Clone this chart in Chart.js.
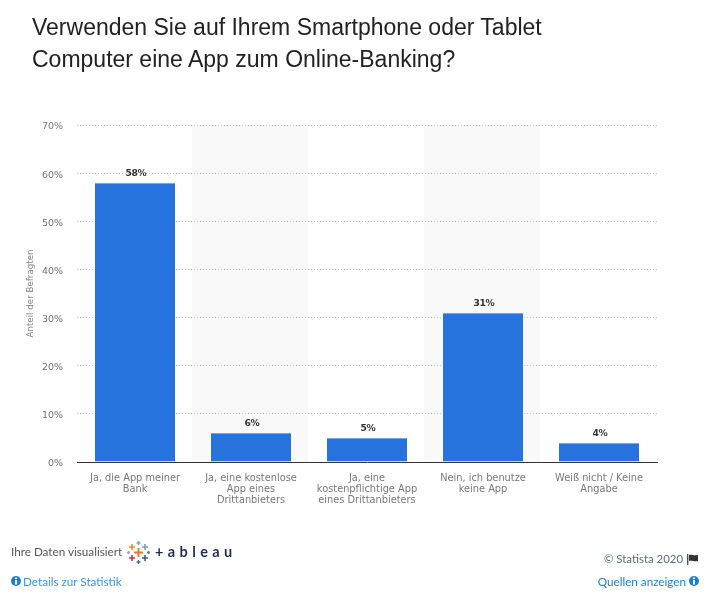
<!DOCTYPE html>
<html lang="de">
<head>
<meta charset="utf-8">
<script src="https://cdn.jsdelivr.net/npm/chart.js@4"></script>
<style>
html,body{margin:0;padding:0;background:#fff;width:716px;height:600px;overflow:hidden}
#wrap{position:relative;width:716px;height:600px}
canvas{position:absolute;left:0;top:0}
.t{position:absolute;white-space:nowrap}
#title{left:32px;top:11px;font:23px/32px "Liberation Sans",Arial,sans-serif;color:#222}
.f{font:11.7px/14px Lato,"Open Sans",sans-serif}
svg{position:absolute;display:block}
</style>
</head>
<body>
<div id="wrap">
<canvas id="c" width="716" height="600"></canvas>
<div class="t" id="title">Verwenden Sie auf Ihrem Smartphone oder Tablet<br>Computer eine App zum Online-Banking?</div>
<div class="t f" style="left:11px;top:544px;color:#555">Ihre Daten visualisiert</div>
<svg style="left:127px;top:541px" width="24" height="24" viewBox="0 0 24 24" stroke-width="1.6" fill="none">
<path d="M11.500 7v9M7 11.500h9" stroke="#e8762b" stroke-width="2"/>
<path d="M5 3v6M2 6h6" stroke="#f28e2b"/>
<path d="M18 3v6M15 6h6" stroke="#7b9fb5"/>
<path d="M5 14v6M2 17h6" stroke="#c8324b"/>
<path d="M18 14v6M15 17h6" stroke="#3f5f8a"/>
<path d="M11.500 0v4M9.500 2h4" stroke="#7fa6b8"/>
<path d="M11.500 19v4M9.500 21h4" stroke="#5b6f9a"/>
<path d="M1.500 10v3M0 11.500h3" stroke="#8fb0c2"/>
<path d="M21.500 10v3M20 11.500h3" stroke="#5f86a8"/>
</svg>
<div class="t" style="left:155px;top:543px;font:14.5px/18px Lato,sans-serif;font-weight:700;color:#1f2f55;letter-spacing:4.4px">+ableau</div>
<svg style="left:11px;top:576px" width="10" height="10" viewBox="0 0 10 10"><circle cx="5" cy="5" r="5" fill="#1c7fd6"/><rect x="4" y="1.500" width="2" height="1.600" fill="#fff"/><rect x="4" y="4" width="2" height="4.500" fill="#fff"/></svg>
<div class="t f" style="left:23px;top:574px;color:#3a96e6">Details zur Statistik</div>
<div class="t f" style="right:33px;top:552px;color:#5a6a80;font-size:11.4px">© Statista 2020</div>
<svg style="left:687px;top:554px" width="12" height="11" viewBox="0 0 12 11"><rect x="0" y="0" width="1.400" height="11" fill="#555"/><path d="M2 1c3-1 4 1 9 0v6c-4 1-6-1-9 0z" fill="#333"/></svg>
<div class="t f" style="right:30px;top:574px;color:#1c7fd6">Quellen anzeigen</div>
<svg style="left:689px;top:576px" width="10" height="10" viewBox="0 0 10 10"><circle cx="5" cy="5" r="5" fill="#1c7fd6"/><rect x="4" y="1.500" width="2" height="1.600" fill="#fff"/><rect x="4" y="4" width="2" height="4.500" fill="#fff"/></svg>
</div>
<script>
const categories = [
  ["Ja, die App meiner", "Bank"],
  ["Ja, eine kostenlose", "App eines", "Drittanbieters"],
  ["Ja, eine", "kostenpflichtige App", "eines Drittanbieters"],
  ["Nein, ich benutze", "keine App"],
  ["Weiß nicht / Keine", "Angabe"]
];
const shares = [58, 6, 5, 31, 4];
const yAxisTitle = "Anteil der Befragten";

const bands = {
  id: "bands",
  beforeDraw(chart) {
    const { ctx, chartArea: a, scales: { x } } = chart;
    const w = a.width / categories.length;
    ctx.save();
    ctx.fillStyle = "#f9f9f9";
    categories.forEach((_, i) => {
      if (i % 2 === 1) ctx.fillRect(x.getPixelForValue(i) - w / 2 - 1, a.top, w, a.bottom - a.top);
    });
    ctx.restore();
  }
};
const valueLabels = {
  id: "valueLabels",
  afterDatasetsDraw(chart) {
    const { ctx } = chart;
    ctx.save();
    ctx.font = 'bold 9.2px "DejaVu Sans"';
    ctx.letterSpacing = "-0.4px";
    ctx.fillStyle = "#333";
    ctx.textAlign = "center";
    ctx.textBaseline = "alphabetic";
    chart.getDatasetMeta(0).data.forEach((bar, i) => {
      ctx.fillText(shares[i] + "%", bar.x + 1, bar.y - 7);
    });
    ctx.restore();
  }
};
new Chart(document.getElementById("c"), {
  type: "bar",
  data: {
    labels: categories,
    datasets: [{
      data: shares, backgroundColor: "#2773dd", barPercentage: 0.69, categoryPercentage: 1,
      borderWidth: { top: 1, left: 0, right: 0, bottom: 0 }, borderColor: "#6fa3ea"
    }]
  },
  options: {
    responsive: false,
    animation: false,
    devicePixelRatio: 1,
    layout: { padding: { left: 0, right: 59, top: 125, bottom: 88 } },
    plugins: { legend: { display: false }, tooltip: { enabled: false } },
    scales: {
      x: {
        grid: { display: false, drawTicks: false },
        border: { display: true, color: "#333", width: 1 },
        ticks: { color: "#777", font: { family: "DejaVu Sans", size: 9.8, lineHeight: 1.12 }, padding: 11, maxRotation: 0, autoSkip: false },
        afterFit(s) { s.height = 50; }
      },
      y: {
        min: 0, max: 70,
        grid: {
          color: c => c.tick.value === 0 ? "rgba(0,0,0,0)" : "#c4c4c4",
          lineWidth: 1, drawTicks: false
        },
        border: { display: false, dash: [1, 2] },
        ticks: { stepSize: 10, color: "#707070", padding: 14, labelOffset: 2, font: { family: "DejaVu Sans", size: 9.5 }, callback: v => v + "%" },
        title: { display: true, text: yAxisTitle, color: "#808080", font: { family: "DejaVu Sans", size: 8.7 }, padding: { top: 26, bottom: 0 } },
        afterFit(s) { s.width = 77; }
      }
    }
  },
  plugins: [bands, valueLabels]
});
</script>
</body>
</html>
